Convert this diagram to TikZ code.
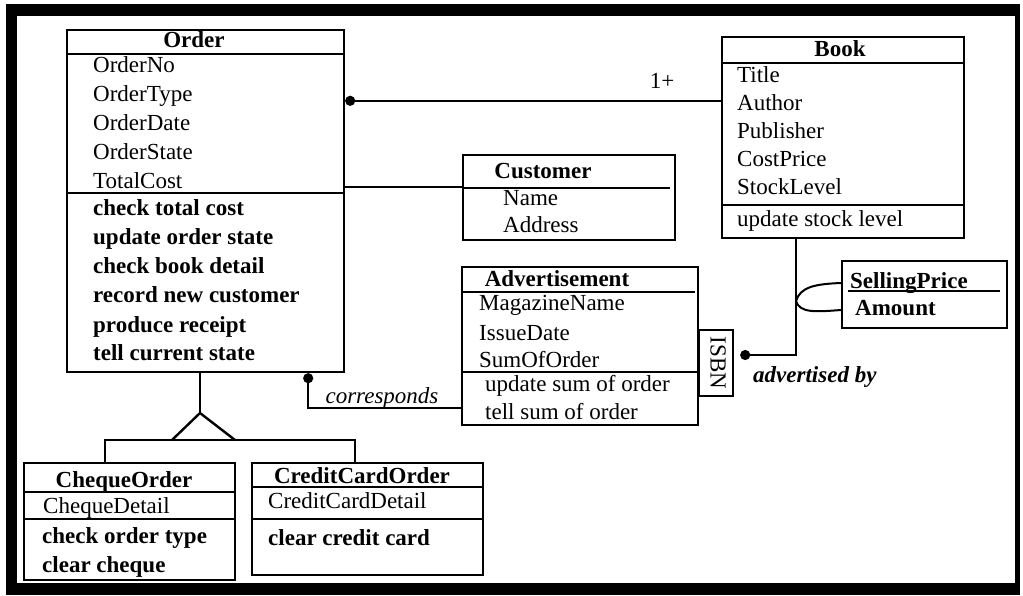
\documentclass[tikz,border=0pt]{standalone}
\usepackage{fontspec}
\setmainfont{Liberation Serif}
\usetikzlibrary{arrows.meta,fit}

\tikzset{
  cls/.style={draw, line width=2.4pt, inner sep=0pt},
  attr/.style={anchor=west, inner sep=0pt, text height=16pt, text depth=5pt, font=\fontsize{23}{27}\selectfont},
  meth/.style={attr, font=\fontsize{23}{27}\selectfont\bfseries},
  ttl/.style={inner sep=0pt, text height=16pt, text depth=5pt, font=\fontsize{23}{27}\selectfont\bfseries},
  link/.style={line width=2.4pt},
  ball/.style={link, {Circle[length=10pt]}-},
}

\begin{document}
\begin{tikzpicture}[x=1pt, y=-1pt]
	\useasboundingbox (0,0) rectangle (1023,595);
	\fill (6,4) rectangle (1020,595);
	\fill[white] (17,16) rectangle (1015,583);

	% Order
	\node[cls, fit={(67,30) (344,372)}] (order) {};
	\node[ttl] (ordert) at (194,42) {Order};
	\draw[link] (67,54) -- (344,54);
	\draw[link] (67,193) -- (344,193);
	\node[attr] (o1) at (93,67) {OrderNo};
	\node[attr] (o2) at (93,96) {OrderType};
	\node[attr] (o3) at (93,125) {OrderDate};
	\node[attr] (o4) at (93,154) {OrderState};
	\node[attr] (o5) at (93,183) {TotalCost};
	\node[meth] (om1) at (93,210) {check total cost};
	\node[meth] (om2) at (93,239) {update order state};
	\node[meth] (om3) at (93,268) {check book detail};
	\node[meth] (om4) at (93,297) {record new customer};
	\node[meth] (om5) at (93,327) {produce receipt};
	\node[meth] (om6) at (93,355) {tell current state};

	% Book
	\node[cls, fit={(722,37) (964,238)}] (book) {};
	\node[ttl] (bookt) at (840,51) {Book};
	\draw[link] (722,63) -- (964,63);
	\draw[link] (722,205) -- (964,205);
	\node[attr] (b1) at (737,77) {Title};
	\node[attr] (b2) at (737,105) {Author};
	\node[attr] (b3) at (737,133) {Publisher};
	\node[attr] (b4) at (737,161) {CostPrice};
	\node[attr] (b5) at (737,189) {StockLevel};
	\node[attr] (bm1) at (737,221) {update stock level};

	% Customer
	\node[cls, fit={(463,155) (675,240)}] (customer) {};
	\node[ttl] (customert) at (543,173) {Customer};
	\draw[link] (463,188) -- (670,188);
	\node[attr] (c1) at (503,200) {Name};
	\node[attr] (c2) at (503,227) {Address};

	% Advertisement
	\node[cls, fit={(462,267) (698,425)}] (ad) {};
	\node[ttl] (adt) at (557,281) {Advertisement};
	\draw[link] (462,292) -- (695,292);
	\draw[link] (462,372) -- (698,372);
	\node[attr] (a1) at (479,305) {MagazineName};
	\node[attr] (a2) at (479,335) {IssueDate};
	\node[attr] (a3) at (479,362) {SumOfOrder};
	\node[attr] (am1) at (485,386) {update sum of order};
	\node[attr] (am2) at (485,414) {tell sum of order};
	\node[cls, fit={(699,330) (733,396)}] (isbn) {};
	\node[attr, anchor=center, rotate=-90] (isbnt) at (isbn) {ISBN};

	% SellingPrice
	\node[cls, fit={(842,261) (1007,328)}] (sp) {};
	\node[ttl, anchor=west] (spt) at (850,283) {SellingPrice};
	\draw[link] (848,291) -- (1000,291);
	\node[meth] (amt) at (855,310) {Amount};

	% ChequeOrder
	\node[cls, fit={(24,463) (235,580)}] (cheque) {};
	\node[ttl] (chequet) at (124,482) {ChequeOrder};
	\draw[link] (24,492) -- (235,492);
	\draw[link] (24,519) -- (235,519);
	\node[attr] (q1) at (43,508) {ChequeDetail};
	\node[meth] (qm1) at (42,538) {check order type};
	\node[meth] (qm2) at (42,567) {clear cheque};

	% CreditCardOrder
	\node[cls, fit={(252,463) (483,575)}] (credit) {};
	\node[ttl] (creditt) at (362,478) {CreditCardOrder};
	\draw[link] (252,487) -- (483,487);
	\draw[link] (252,519) -- (483,519);
	\node[attr] (r1) at (268,503) {CreditCardDetail};
	\node[meth] (rm1) at (268,540) {clear credit card};

	% links
	\coordinate (ob) at ([yshift=-72pt]order.north east);
	\draw[ball] (ob) -- (ob -| book.west);
	\node[attr, anchor=center] (mult) at (662,83) {1+};

	\coordinate (oc) at ([yshift=-33pt]customer.north west);
	\draw[link] (oc -| order.east) -- (oc);

	\coordinate (oa) at ([xshift=-37pt]order.south east);
	\coordinate (ca) at ([yshift=18pt]ad.south west);
	\draw[ball] (oa) |- (ca);
	\node[attr, anchor=center, font=\fontsize{23}{27}\selectfont\itshape] (corr) at (382,398) {corresponds};

	\coordinate (ib) at ([yshift=8pt]isbn.east);
	\coordinate (bb) at ([xshift=-47pt]book.south);
	\draw[ball, shorten <=6pt] (ib) -| (bb);
	\node[attr, font=\fontsize{23}{27}\selectfont\bfseries\itshape] (adv) at (753,377) {advertised by};

	\coordinate (q) at ([yshift=-62pt]bb);
	\draw[line width=2pt] (q) .. controls (800,287) and (815,284) .. (sp.west |- spt);
	\draw[line width=2pt] (q) .. controls (800,313) and (815,312) .. (sp.west |- amt);

	\coordinate (apex) at (200,413);
	\draw[link] (order.south -| apex) -- (apex);
	\draw[link] ([xshift=-28pt,yshift=-27pt]apex) -- (apex) -- ([xshift=35pt,yshift=-27pt]apex);
	\coordinate (gl) at (105,440);
	\coordinate (gr) at (355,440);
	\draw[link] (cheque.north -| gl) |- (gr) -- (credit.north -| gr);
\end{tikzpicture}
\end{document}
